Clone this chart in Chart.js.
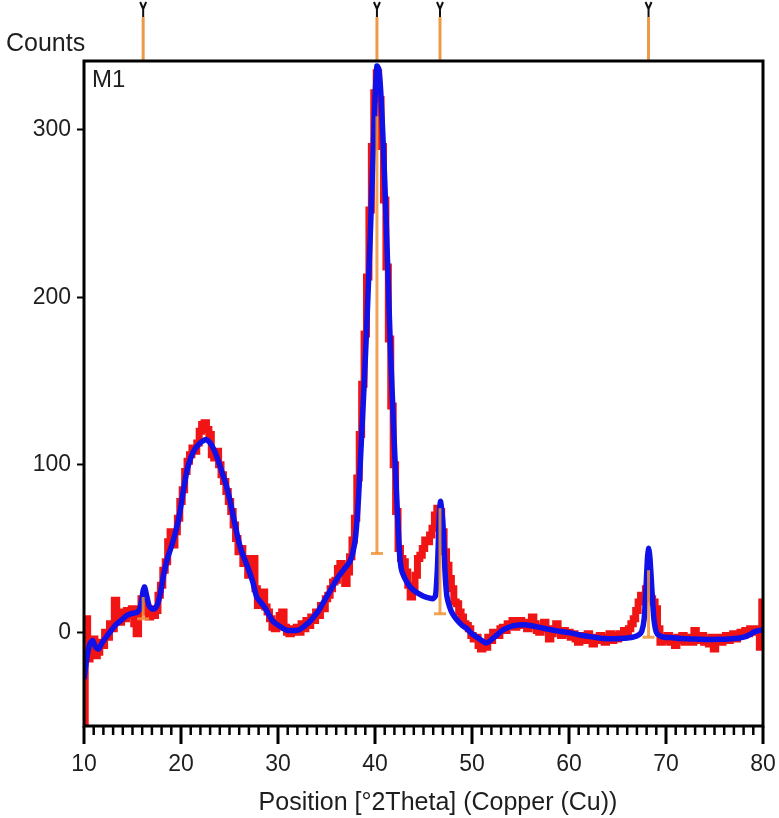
<!DOCTYPE html>
<html>
<head>
<meta charset="utf-8">
<script src="https://cdn.jsdelivr.net/npm/chart.js@4.4.0/dist/chart.umd.min.js"></script>
<style>
  html, body { margin: 0; padding: 0; background: #fff; }
  #wrap { width: 779px; height: 818px; }
</style>
</head>
<body>
<div id="wrap"><canvas id="xrd"></canvas></div>
<script>
// measured counts, one value every 0.25 deg from 10 to 80
const obsStart = 10;
const obsStep = 0.25;
const obsCounts = [
  -55, 8, -16, -10, -4, -14, -12, -6, -8, 0, -3, 5, 2, 19, 12, 6, 12, 8, 13, 10,
  14, 5, -1, 14, 20, 18, 12, 9, 14, 10, 13, 22, 28, 37, 42, 54, 60, 52, 60, 68,
  78, 85, 96, 102, 106, 110, 108, 113, 120, 124, 125, 121, 118, 106, 104, 108, 100, 94, 90, 84,
  78, 72, 64, 56, 48, 50, 41, 44, 34, 40, 44, 26, 16, 23, 24, 15, 12, 8, 3, 2,
  6, 10, 12, 3, 0, -1, 2, 0, 3, 0, 5, 2, 7, 4, 9, 7, 12, 10, 16, 14,
  20, 22, 26, 30, 31, 38, 41, 35, 29, 36, 45, 55, 68, 92, 118, 148, 178, 212, 252, 290,
  322, 334, 318, 290, 258, 218, 175, 135, 100, 72, 50, 44, 42, 36, 28, 21, 26, 34, 44, 46,
  50, 55, 54, 58, 62, 70, 74, 72, 60, 48, 40, 32, 26, 18, 17, 12, 9, 5, 4, 2,
  -2, -4, -3, -8, -10, -6, -9, -3, -5, 0, 0, -2, 2, 3, 1, 5, 4, 7, 3, 6,
  7, 4, 6, 2, 4, 9, 5, 1, 0, 3, 6, 2, -4, -1, 2, 5, 1, -2, 1, -1,
  0, -3, -1, -4, -6, -2, -3, -5, -1, -4, -7, -3, -5, -2, -4, -6, -3, -1, -5, -2,
  -4, -1, -3, 1, -1, 2, 5, 8, 13, 18, 22, 21, 26, 24, 20, 18, 14, 2, -6, -3,
  -5, -2, -6, -4, -8, -3, -5, -2, -6, -4, -3, -6, 1, -3, -5, -2, -6, -4, -7, -3,
  -10, -5, -3, -6, -4, -2, -5, -3, -1, -4, -2, 0, -2, 1, -1, 2, 0, 2, 1, -9,
  18
];

// fitted profile
const fitPos = [
  10.0, 10.3, 10.6, 10.9, 11.2, 11.5, 11.9, 12.4, 12.8, 13.2, 13.6, 14.0, 14.4, 14.8, 15.2, 15.5,
  15.75, 15.95, 16.1, 16.25, 16.45, 16.7, 17.0, 17.3, 17.6, 17.9, 18.2, 18.6, 19.0, 19.4, 19.8,
  20.2, 20.6, 21.0, 21.4, 21.8, 22.2, 22.6, 23.0, 23.4, 23.8, 24.2, 24.6, 25.0, 25.4, 25.8,
  26.2, 26.6, 27.0, 27.4, 27.8, 28.2, 28.6, 29.0, 29.4, 29.8, 30.2, 30.6, 31.0, 31.4, 31.8,
  32.2, 32.6, 33.0, 33.4, 33.8, 34.2, 34.6, 35.0, 35.4, 35.8, 36.2, 36.6, 37.0, 37.4, 37.7,
  38.0, 38.3, 38.6, 38.9, 39.2, 39.5, 39.8, 40.0, 40.2, 40.4, 40.6, 40.8, 41.0, 41.3, 41.6,
  41.9, 42.2, 42.5, 42.7, 43.0, 43.5, 44.0, 44.5, 45.0, 45.5, 46.0, 46.25, 46.45, 46.6, 46.75,
  46.9, 47.05, 47.2, 47.4, 47.7, 48.0, 48.5, 49.0, 49.5, 50.0, 50.5, 51.0, 51.5, 51.9, 52.3,
  52.7, 53.1, 53.6, 54.2, 54.8, 55.4, 56.0, 56.7, 57.5, 58.4, 59.2, 60.1, 61.0, 61.9, 62.8,
  63.6, 64.5, 65.3, 66.0, 66.7, 67.2, 67.5, 67.75, 67.95, 68.1, 68.22, 68.35, 68.55, 68.75,
  69.0, 69.3, 69.8, 70.5, 71.5, 72.5, 73.5, 74.5, 75.5, 76.5, 77.4, 78.0, 78.6, 79.1, 79.6, 80.0
];
const fitCounts = [
  -28, -15, -7, -5, -9, -10, -6, -2, 1, 4, 6, 8, 10, 11, 11.5, 12,
  14, 19, 25, 27, 22, 16, 14, 14, 17, 24, 34, 44, 51, 59, 69,
  83, 96, 104, 109, 112, 114, 115, 113, 109, 103, 96, 89, 80, 69, 58,
  49, 43, 37, 30, 21, 18, 15, 11, 7, 5, 3.5, 2, 1, 1, 1,
  1.5, 3, 5, 7, 10, 13, 17, 21, 25, 29, 33, 36, 39, 42, 47,
  57, 80, 115, 150, 190, 235, 285, 318, 338, 336, 322, 298, 270, 220, 168,
  125, 85, 50, 38, 33, 28, 25, 23, 21.5, 20.5, 20, 22, 40, 65, 78,
  72, 60, 38, 22, 15, 11, 7, 4, 2, -1, -3, -5, -6.5, -5, -3,
  -1, 1, 2.5, 3.8, 4.3, 4.5, 4, 3.2, 2.2, 1.2, 0.4, -0.4, -1.5, -2.4, -3.2,
  -3.8, -3.9, -3.8, -3.5, -2.8, -1.5, 0.5, 8, 28, 45, 50, 44, 25, 8,
  0, -2, -3, -3.2, -3.8, -4, -4.2, -4.3, -4.2, -4, -3.6, -3, -1.5, 0.2, 1, 1.5
];

// reference pattern lines: position, foot and top (counts)
const refPos = [16.1, 40.2, 46.7, 68.2];
const refBase = [8, 47, 11, -3];
const refTop = [21, 308, 74, 37];

const xTicks = [10, 20, 30, 40, 50, 60, 70, 80];
const yTicks = [0, 100, 200, 300];

const FONT = "'Liberation Sans', Arial, sans-serif";
const TXT = '#1e1e1e';

const obsData = obsCounts.map((c, i) => ({ x: obsStart + i * obsStep, y: c }));
const fitData = fitPos.map((p, i) => ({ x: p, y: fitCounts[i] }));

const decor = {
  id: 'decor',
  afterDatasetsDraw(chart) {
    const { ctx, chartArea: a, scales: { x, y } } = chart;
    ctx.save();

    // sticks inside the plot
    ctx.strokeStyle = 'rgba(238,148,55,0.85)';
    ctx.lineWidth = 3;
    refPos.forEach((p, i) => {
      const px = x.getPixelForValue(p);
      const yb = y.getPixelForValue(refBase[i]);
      ctx.beginPath();
      ctx.moveTo(px, yb);
      ctx.lineTo(px, y.getPixelForValue(refTop[i]));
      ctx.stroke();
      ctx.beginPath();
      ctx.moveTo(px - 6, yb);
      ctx.lineTo(px + 6, yb);
      ctx.stroke();
    });

    // marker lines above the frame
    refPos.forEach(p => {
      const px = x.getPixelForValue(p);
      ctx.strokeStyle = '#ec9a48';
      ctx.lineWidth = 3;
      ctx.beginPath();
      ctx.moveTo(px, 17);
      ctx.lineTo(px, a.top);
      ctx.stroke();
      ctx.strokeStyle = '#111';
      ctx.lineWidth = 2;
      ctx.beginPath();
      ctx.moveTo(px - 3, 2);
      ctx.lineTo(px, 9);
      ctx.lineTo(px + 3, 2);
      ctx.moveTo(px, 9);
      ctx.lineTo(px, 17);
      ctx.stroke();
    });

    // frame
    ctx.strokeStyle = '#000';
    ctx.lineWidth = 3;
    ctx.strokeRect(a.left, a.top, a.right - a.left, a.bottom - a.top);

    // x ticks: every degree, longer at the labelled ones
    for (let v = 10; v <= 80; v++) {
      const major = v % 10 === 0;
      const px = x.getPixelForValue(v);
      ctx.lineWidth = major ? 3 : 2.5;
      ctx.beginPath();
      ctx.moveTo(px, a.bottom);
      ctx.lineTo(px, a.bottom + (major ? 18 : 9));
      ctx.stroke();
    }

    // texts
    ctx.fillStyle = TXT;
    ctx.textBaseline = 'alphabetic';
    ctx.textAlign = 'left';
    ctx.font = '25px ' + FONT;
    ctx.fillText('Counts', 6, 51);
    ctx.font = '24px ' + FONT;
    ctx.fillText('M1', a.left + 8, a.top + 26);
    ctx.textAlign = 'center';
    ctx.font = '25px ' + FONT;
    ctx.fillText('Position [°2Theta] (Copper (Cu))', 438, 810);
    ctx.restore();
  }
};

new Chart(document.getElementById('xrd'), {
  type: 'line',
  data: {
    datasets: [
      {
        label: 'Calculated',
        data: fitData,
        borderColor: '#1010e8',
        borderWidth: 5.5,
        pointRadius: 0,
        tension: 0.2,
        order: 0
      },
      {
        label: 'Observed',
        data: obsData,
        borderColor: '#f01414',
        borderWidth: 7,
        pointRadius: 0,
        stepped: 'middle',
        order: 1
      }
    ]
  },
  options: {
    responsive: true,
    maintainAspectRatio: false,
    animation: false,
    events: [],
    layout: { padding: { top: 61, right: 16, left: 0, bottom: 0 } },
    plugins: {
      legend: { display: false },
      tooltip: { enabled: false }
    },
    scales: {
      x: {
        type: 'linear',
        min: 10,
        max: 80,
        afterBuildTicks: s => { s.ticks = xTicks.map(v => ({ value: v })); },
        afterFit: s => { s.height = 92; },
        grid: { drawOnChartArea: false, drawTicks: true, tickLength: 23, tickColor: 'rgba(0,0,0,0)' },
        border: { display: false },
        ticks: { padding: 2, color: TXT, font: { family: FONT, size: 23 }, maxRotation: 0, autoSkip: false }
      },
      y: {
        type: 'linear',
        min: -56,
        max: 341,
        afterBuildTicks: s => { s.ticks = yTicks.map(v => ({ value: v })); },
        afterFit: s => { s.width = 84; },
        grid: { drawOnChartArea: false, drawTicks: true, tickLength: 7, tickWidth: 2, tickColor: '#000' },
        border: { display: false },
        ticks: { padding: 6, color: TXT, font: { family: FONT, size: 23 } }
      }
    }
  },
  plugins: [decor]
});
</script>
</body>
</html>
